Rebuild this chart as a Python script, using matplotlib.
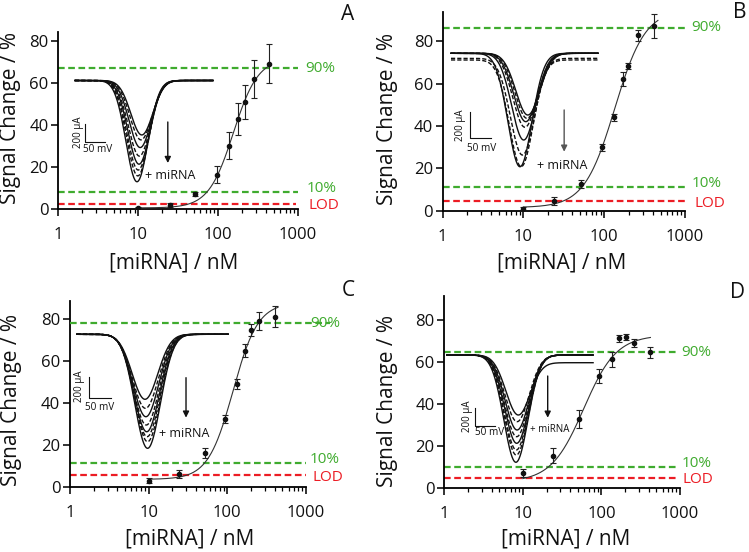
import numpy as np
import matplotlib
matplotlib.use("Agg")
import matplotlib.pyplot as plt
from matplotlib.ticker import LogLocator, NullFormatter, FixedLocator, FixedFormatter
from matplotlib.transforms import blended_transform_factory, offset_copy

plt.rcParams['font.family'] = ['Open Sans', 'DejaVu Sans']

# ---------------- data ----------------
x_ticks = [1, 10, 100, 1000]
x_tick_labels = ["1", "10", "100", "1000"]
y_ticks = [0, 20, 40, 60, 80]

A_conc = [10, 25, 52, 98, 138, 175, 214, 278, 433]
A_sig = [0.6, 1.9, 7.0, 16.3, 30.2, 42.9, 51.0, 62.0, 69.2]
A_err = [0.5, 1.0, 1.0, 4.1, 6.3, 7.7, 8.3, 9.0, 9.3]
A_fit = dict(bottom=0.5, top=72.0, K=155.0, n=2.8, lo=10, hi=460)
A_lines = [67.0, 8.3, 2.4]   # 90 %, 10 %, LOD

B_conc = [10, 24, 51, 94, 132, 169, 198, 259, 416]
B_sig = [0.8, 4.7, 12.6, 29.9, 44.0, 62.1, 68.2, 82.8, 87.2]
B_err = [0.8, 2.0, 2.0, 1.5, 1.5, 3.2, 1.5, 2.5, 5.7]
B_fit = dict(bottom=1.5, top=95.0, K=135.0, n=2.3, lo=10, hi=462)
B_lines = [86.3, 11.0, 4.4]

C_conc = [10, 24, 52, 93, 131, 169, 201, 254, 403]
C_sig = [2.9, 6.1, 16.0, 32.4, 49.1, 65.0, 74.9, 79.2, 81.3]
C_err = [1.2, 2.0, 2.3, 2.0, 2.5, 3.0, 3.0, 4.5, 5.0]
C_fit = dict(bottom=3.5, top=88.0, K=118.0, n=2.74, lo=10, hi=440)
C_lines = [78.1, 11.5, 5.4]

D_conc = [10, 24, 52, 94, 135, 168, 203, 261, 414]
D_sig = [7.4, 15.5, 33.0, 53.5, 61.4, 71.4, 72.2, 69.3, 64.8]
D_err = [2.0, 3.5, 4.5, 3.5, 3.5, 1.5, 1.5, 2.0, 2.5]
D_fit = dict(bottom=3.0, top=73.0, K=59.6, n=2.09, lo=10, hi=420)
D_lines = [64.9, 10.0, 5.1]

line_labels = ["90%", "10%", "LOD"]

# voltammogram insets: peak potentials (mV, relative), peak currents (uA)
A_peakE = [167, 165, 163, 161, 160, 158, 157, 155]
A_peakI = [605, 660, 745, 840, 930, 995, 1060, 1125]
B_peakE = [186, 184, 181, 179, 176, 173, 170, 167]
B_peakI = [464, 489, 514, 556, 652, 727, 802, 853]
B_drift = [0, 0, 0, 0, 0, 38, 50, 0]
C_peakE = [160, 161, 162, 163, 164, 165, 166, 166]
C_peakI = [619, 705, 785, 864, 928, 975, 1023, 1086]
D_peakE = [177, 176, 176, 175, 175, 174, 174, 173]
D_peakI = [611, 727, 818, 891, 963, 1036, 1091, 1170]
D_step = [84, 0, 0, 0, 0, 0, 0, 0]
inset_styles = ['-', '--', '-', '--', '-', '--', '--', '-']

GREEN = '#3fab2e'
RED = '#ec1c24'

W, H = 749, 552
fig = plt.figure(figsize=(W / 100, H / 100), dpi=100)


def px_rect(l, t, r, b):
    return [l / W, 1 - b / H, (r - l) / W, (b - t) / H]


def hill(x, bottom, top, K, n):
    return bottom + (top - bottom) / (1 + (K / x) ** n)


panels = [
    dict(letter='A', conc=A_conc, sig=A_sig, err=A_err, fit=A_fit, lines=A_lines,
         rect=(58.3, 32, 298, 209), ymax=84.4, letter_xy=(348, 14),
         xlab_xy=(174, 263), ylab_xy=(11, 118.5),
         lab_x=[305, 306.5, 308], line_end=[1000, 1000, 950]),
    dict(letter='B', conc=B_conc, sig=B_sig, err=B_err, fit=B_fit, lines=B_lines,
         rect=(442.7, 11.5, 685, 210.7), ymax=94.0, letter_xy=(740, 13),
         xlab_xy=(562, 263), ylab_xy=(387, 119),
         lab_x=[691.5, 692, 694], line_end=[1000, 1000, 1000]),
    dict(letter='C', conc=C_conc, sig=C_sig, err=C_err, fit=C_fit, lines=C_lines,
         rect=(70, 301, 306, 486.7), ymax=88.8, letter_xy=(348, 290),
         xlab_xy=(190, 539.5), ylab_xy=(12, 400),
         lab_x=[310, 310, 312.5], line_end=[2000, 1000, 1000]),
    dict(letter='D', conc=D_conc, sig=D_sig, err=D_err, fit=D_fit, lines=D_lines,
         rect=(444.3, 296, 680, 488.3), ymax=91.6, letter_xy=(738, 292),
         xlab_xy=(566, 539.5), ylab_xy=(387, 401),
         lab_x=[681, 681.5, 683], line_end=[950, 950, 950]),
]

label_dy_px = [0, 3.5, -2.0]   # small vertical nudge of the line labels

for p in panels:
    l, t, r, b = p['rect']
    ax = fig.add_axes(px_rect(l, t, r, b))
    ax.set_xscale('log')
    ax.set_xlim(1, 1000)
    ax.set_ylim(0, p['ymax'])
    for s in ['top', 'right']:
        ax.spines[s].set_visible(False)
    for s in ['left', 'bottom']:
        ax.spines[s].set_linewidth(1.3)
    ax.xaxis.set_major_locator(FixedLocator(x_ticks))
    ax.xaxis.set_major_formatter(FixedFormatter(x_tick_labels))
    ax.xaxis.set_minor_locator(LogLocator(base=10, subs=np.arange(2, 10)))
    ax.xaxis.set_minor_formatter(NullFormatter())
    ax.set_yticks(y_ticks)
    ax.tick_params(axis='both', which='major', direction='out', length=5, width=1.2,
                   labelsize=12, colors='#111111')
    ax.tick_params(axis='x', which='minor', direction='out', length=3, width=0.9)
    ax.tick_params(axis='x', which='major', pad=8)
    ax.tick_params(axis='y', which='major', pad=2)

    # reference lines
    colors = [GREEN, GREEN, RED]
    tr = blended_transform_factory(fig.transFigure, ax.transData)
    for i, (val, lab) in enumerate(zip(p['lines'], line_labels)):
        ax.plot([1, p['line_end'][i]], [val, val], ls=(0, (3, 1.6)), lw=1.6,
                color=colors[i], clip_on=False, zorder=4 if p['line_end'][i] > 1000 else 2)
        tr_i = offset_copy(tr, fig=fig, x=0, y=label_dy_px[i] * 0.72, units='points')
        ax.text(p['lab_x'][i] / W, val, lab, transform=tr_i, color=colors[i],
                fontsize=11, ha='left', va='center', zorder=3)

    # fit curve
    f = p['fit']
    xs = np.logspace(np.log10(f['lo']), np.log10(f['hi']), 300)
    ax.plot(xs, hill(xs, f['bottom'], f['top'], f['K'], f['n']), color='#333333', lw=0.8, zorder=5)

    # data points
    ax.errorbar(p['conc'], p['sig'], yerr=p['err'], fmt='o', ms=3.0, color='#111111',
                ecolor='#222222', elinewidth=0.8, capsize=2, capthick=0.8, zorder=6)

    fig.text(p['xlab_xy'][0] / W, 1 - p['xlab_xy'][1] / H, '[miRNA] / nM',
             ha='center', va='center', fontsize=15, color='#111111')
    fig.text(p['ylab_xy'][0] / W, 1 - p['ylab_xy'][1] / H, 'Signal Change / %',
             ha='center', va='center', rotation=90, fontsize=15, color='#111111')
    fig.text(p['letter_xy'][0] / W, 1 - p['letter_xy'][1] / H, p['letter'],
             ha='center', va='center', fontsize=15, color='#111111')

# ---------------- insets ----------------
insets = [
    dict(left=75, base=80.5, sx=0.40, sy=0.090, Espan=345, Ispan=1130,
         E=A_peakE, I=A_peakI, drift=[0] * 8, step=[0] * 8, sig=27.5,
         bar=(25, -678), ua_xy=(7.5, -572), mv_xy=(20, -772),
         arrow=(232, -461, -917), arrow_col='#111111', mi_xy=(175, -1061), fs=9),
    dict(left=451, base=53.3, sx=0.413, sy=0.133, Espan=356, Ispan=860,
         E=B_peakE, I=B_peakI, drift=B_drift, step=[0] * 8, sig=29,
         bar=(46, -639), ua_xy=(23.5, -539), mv_xy=(38, -714),
         arrow=(274, -426, -740), arrow_col='#555555', mi_xy=(207.5, -845), fs=9),
    dict(left=76.7, base=334.3, sx=0.427, sy=0.105, Espan=355, Ispan=1090,
         E=C_peakE, I=C_peakI, drift=[0] * 8, step=[0] * 8, sig=30,
         bar=(29.5, -610), ua_xy=(7.7, -499), mv_xy=(19.4, -695),
         arrow=(256, -413, -794), arrow_col='#111111', mi_xy=(193.4, -943), fs=9),
    dict(left=446.7, base=355, sx=0.40, sy=0.0917, Espan=366, Ispan=1175,
         E=D_peakE, I=D_peakI, drift=[0] * 8, step=D_step, sig=30,
         bar=(72, -775), ua_xy=(51.5, -665), mv_xy=(71, -847),
         arrow=(252.5, -229, -684), arrow_col='#111111', mi_xy=(208, -810), fs=7),
]

for q in insets:
    r = q['left'] + q['Espan'] * q['sx']
    b = q['base'] + q['Ispan'] * q['sy']
    ia = fig.add_axes(px_rect(q['left'], q['base'], r, b))
    ia.set_xlim(0, q['Espan'])
    ia.set_ylim(-q['Ispan'], 0)
    ia.axis('off')
    Ev = np.linspace(0, q['Espan'], 400)
    for k in range(len(q['E'])):
        c, d = q['E'][k], q['I'][k]
        iv = -q['drift'][k] - q['step'][k] / (1 + np.exp(-(Ev - c) / 15.0)) \
             - d * np.exp(-(Ev - c) ** 2 / (2 * q['sig'] ** 2))
        ia.plot(Ev, iv, color='#111111', lw=1.0, ls=inset_styles[k], clip_on=False,
                dashes=(3, 1.5) if inset_styles[k] == '--' else (None, None))
    bx, by = q['bar']
    ia.plot([bx, bx, bx + 50], [by + 200, by, by], color='#111111', lw=0.8, clip_on=False)
    ia.text(q['ua_xy'][0], q['ua_xy'][1], '200 µA', rotation=90, ha='center', va='center',
            fontsize=7, color='#111111')
    ia.text(q['mv_xy'][0], q['mv_xy'][1], '50 mV', ha='left', va='center',
            fontsize=7.2, color='#111111')
    ax_, y0, y1 = q['arrow']
    ia.annotate('', xy=(ax_, y1), xytext=(ax_, y0),
                arrowprops=dict(arrowstyle='-|>', color=q['arrow_col'], lw=1.0,
                                mutation_scale=9, shrinkA=0, shrinkB=0),
                annotation_clip=False)
    ia.text(q['mi_xy'][0], q['mi_xy'][1], '+ miRNA', ha='left', va='center',
            fontsize=q['fs'], color='#111111')

fig.savefig('out.png', dpi=100)
